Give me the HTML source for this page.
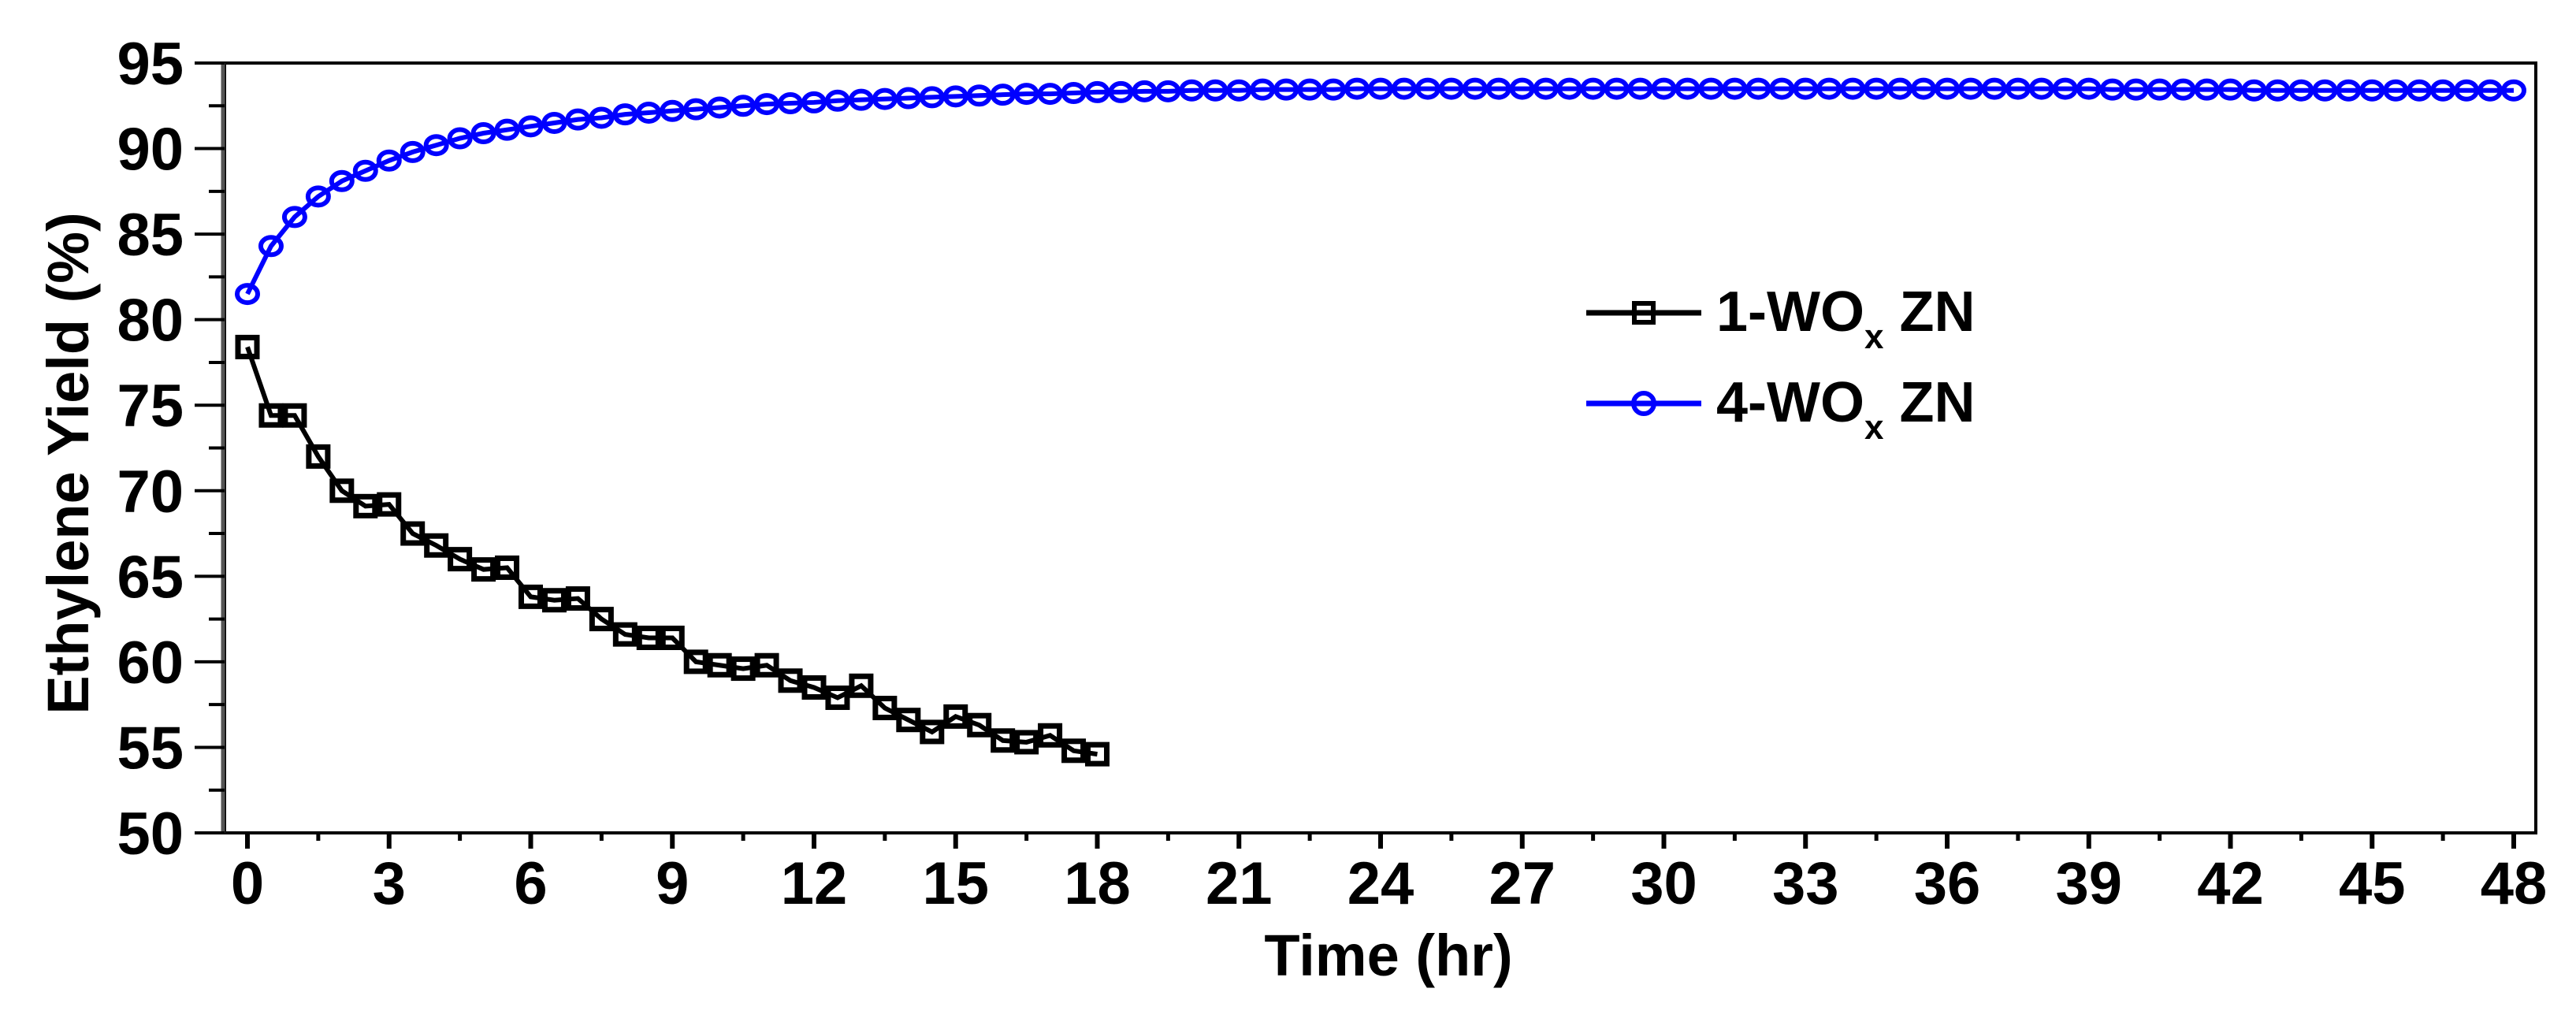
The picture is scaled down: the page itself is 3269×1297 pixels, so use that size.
<!DOCTYPE html>
<html><head><meta charset="utf-8"><style>
html,body{margin:0;padding:0;background:#fff;}
svg{display:block;font-family:"Liberation Sans",Arial,sans-serif;font-weight:bold;}
</style></head><body>
<svg id="chart" width="3269" height="1297" viewBox="0 0 3269 1297" xmlns="http://www.w3.org/2000/svg">
<g id="axes"></g>
<g id="series"></g>
<text x="0" y="0" transform="translate(112,588) rotate(-90)" text-anchor="middle" font-size="74">Ethylene Yield (%)</text>
<text x="1762" y="1238" text-anchor="middle" font-size="74">Time (hr)</text>
<g>
  <g>
    <line x1="2013" y1="397" x2="2159" y2="397" stroke="#000" stroke-width="7"/>
    <rect x="2074" y="385" width="24" height="24" fill="none" stroke="#000" stroke-width="6"/>
    <text x="2178" y="420" font-size="72">1-WO<tspan font-size="44" dy="22">x</tspan><tspan dy="-22"> ZN</tspan></text>
  </g>
  <g>
    <line x1="2013" y1="512" x2="2159" y2="512" stroke="#0000ff" stroke-width="7"/>
    <ellipse cx="2086" cy="512" rx="13" ry="13" fill="none" stroke="#0000ff" stroke-width="6"/>
    <text x="2178" y="535" font-size="72">4-WO<tspan font-size="44" dy="22">x</tspan><tspan dy="-22"> ZN</tspan></text>
  </g>
</g>
</svg>
<script>
const xTicks = [0,3,6,9,12,15,18,21,24,27,30,33,36,39,42,45,48];
const yTicks = [50,55,60,65,70,75,80,85,90,95];
const times1 = [0,0.5,1,1.5,2,2.5,3,3.5,4,4.5,5,5.5,6,6.5,7,7.5,8,8.5,9,9.5,10,10.5,11,11.5,12,12.5,13,13.5,14,14.5,15,15.5,16,16.5,17,17.5,18];
const yield1 = [78.4,74.4,74.4,72.0,70.0,69.1,69.2,67.5,66.8,66.0,65.4,65.5,63.8,63.6,63.7,62.5,61.6,61.4,61.4,60.0,59.8,59.6,59.8,58.9,58.5,57.9,58.6,57.3,56.6,55.9,56.8,56.3,55.4,55.3,55.7,54.8,54.6];
const yield4 = [81.5,84.3,86.0,87.2,88.1,88.7,89.3,89.8,90.2,90.6,90.9,91.1,91.3,91.5,91.7,91.8,92.0,92.1,92.2,92.3,92.4,92.5,92.6,92.65,92.7,92.8,92.85,92.9,92.95,93.0,93.05,93.1,93.15,93.2,93.2,93.25,93.3,93.3,93.35,93.35,93.4,93.4,93.4,93.45,93.45,93.45,93.45,93.5,93.5,93.5,93.5,93.5,93.5,93.5,93.5,93.5,93.5,93.5,93.5,93.5,93.5,93.5,93.5,93.5,93.5,93.5,93.5,93.5,93.5,93.5,93.5,93.5,93.5,93.5,93.5,93.5,93.5,93.5,93.5,93.45,93.45,93.45,93.45,93.45,93.45,93.4,93.4,93.4,93.4,93.4,93.4,93.4,93.4,93.4,93.4,93.4,93.4];

const NS='http://www.w3.org/2000/svg';
const X0=285, X1=3218, Y0=80, Y1=1057;
function xs(t){return 314 + t*(3190-314)/48;}
function ys(v){return Y1 - (v-50)*(Y1-Y0)/45;}
function mk(tag, attrs, parent){const e=document.createElementNS(NS,tag);for(const k in attrs)e.setAttribute(k,attrs[k]);parent.appendChild(e);return e;}
const axes=document.getElementById('axes');
const series=document.getElementById('series');

let f=mk('rect',{x:X0,y:Y0,width:X1-X0,height:Y1-Y0,fill:'none',stroke:'#000','stroke-width':4},axes);


let la=mk('line',{x1:X0-2,y1:Y0,x2:X0-2,y2:Y1,stroke:'#555','stroke-width':5},axes);



yTicks.forEach((v,i)=>{
  const y=ys(v);
  let t=mk('line',{x1:X0-38,y1:y,x2:X0,y2:y,stroke:'#000','stroke-width':4},axes);
  
  
  if(i<yTicks.length-1){
    const ym=ys(v+2.5);
    let m=mk('line',{x1:X0-20,y1:ym,x2:X0,y2:ym,stroke:'#000','stroke-width':4},axes);
    
    
  }
  let l=mk('text',{x:X0-52,y:y+27,'text-anchor':'end','font-size':76},axes);
  l.textContent=v;
  
  
});
xTicks.forEach((v,i)=>{
  const x=xs(v);
  let t=mk('line',{x1:x,y1:Y1,x2:x,y2:Y1+20,stroke:'#000','stroke-width':6},axes);
  
  
  if(i<xTicks.length-1){
    const xm=xs(v+1.5);
    let m=mk('line',{x1:xm,y1:Y1,x2:xm,y2:Y1+10,stroke:'#000','stroke-width':5},axes);
    
    
  }
  let l=mk('text',{x:x,y:Y1+90,'text-anchor':'middle','font-size':76},axes);
  l.textContent=v;
  
  
});

// 4-WOx series (blue circles)
const times4 = yield4.map((_,i)=>i*0.5);
let p4=mk('polyline',{points:yield4.map((v,i)=>xs(times4[i])+','+ys(v)).join(' '),fill:'none',stroke:'#0000ff','stroke-width':6},series);


yield4.forEach((v,i)=>{
  let c=mk('ellipse',{cx:xs(times4[i]),cy:ys(v),rx:13,ry:11,fill:'none',stroke:'#0000ff','stroke-width':6},series);
  
  
});
// 1-WOx series (black squares)
let p1=mk('polyline',{points:yield1.map((v,i)=>xs(times1[i])+','+ys(v)).join(' '),fill:'none',stroke:'#000','stroke-width':6},series);


yield1.forEach((v,i)=>{
  let r=mk('rect',{x:xs(times1[i])-12,y:ys(v)-12,width:24,height:24,fill:'none',stroke:'#000','stroke-width':7},series);
  
  
});
</script>
</body></html>
